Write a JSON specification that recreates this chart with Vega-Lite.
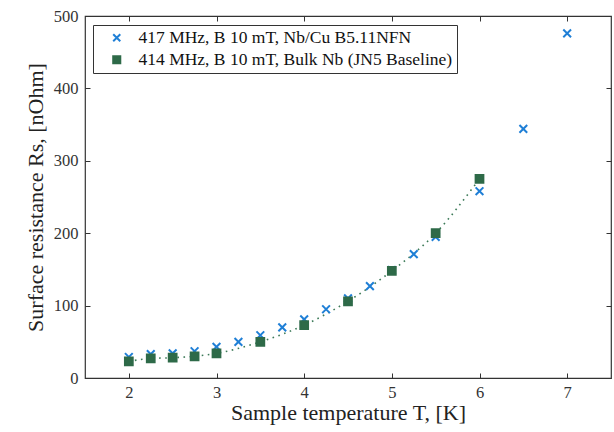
{
  "$schema": "https://vega.github.io/schema/vega-lite/v6.json",
  "width": 526,
  "height": 362,
  "autosize": "none",
  "padding": {"left": 85, "top": 16, "right": 3, "bottom": 54},
  "background": "white",
  "config": {
    "font": "Liberation Serif",
    "view": {"stroke": "#333", "strokeWidth": 1.2},
    "axis": {
      "grid": false,
      "domain": false,
      "tickColor": "#333",
      "tickSize": -5,
      "labelFont": "Liberation Serif",
      "labelFontSize": 16.5,
      "labelColor": "#333",
      "titleFont": "Liberation Serif",
      "titleFontSize": 22,
      "titleFontWeight": "normal",
      "titleColor": "#222"
    }
  },
  "data": {
    "values": [
      {"T": 2, "Rs": 29, "series": "417 MHz, B 10 mT, Nb/Cu B5.11NFN"},
      {"T": 2.25, "Rs": 33, "series": "417 MHz, B 10 mT, Nb/Cu B5.11NFN"},
      {"T": 2.5, "Rs": 34, "series": "417 MHz, B 10 mT, Nb/Cu B5.11NFN"},
      {"T": 2.75, "Rs": 37, "series": "417 MHz, B 10 mT, Nb/Cu B5.11NFN"},
      {"T": 3, "Rs": 43, "series": "417 MHz, B 10 mT, Nb/Cu B5.11NFN"},
      {"T": 3.25, "Rs": 50, "series": "417 MHz, B 10 mT, Nb/Cu B5.11NFN"},
      {"T": 3.5, "Rs": 59, "series": "417 MHz, B 10 mT, Nb/Cu B5.11NFN"},
      {"T": 3.75, "Rs": 70, "series": "417 MHz, B 10 mT, Nb/Cu B5.11NFN"},
      {"T": 4, "Rs": 81, "series": "417 MHz, B 10 mT, Nb/Cu B5.11NFN"},
      {"T": 4.25, "Rs": 95, "series": "417 MHz, B 10 mT, Nb/Cu B5.11NFN"},
      {"T": 4.5, "Rs": 110, "series": "417 MHz, B 10 mT, Nb/Cu B5.11NFN"},
      {"T": 4.75, "Rs": 127, "series": "417 MHz, B 10 mT, Nb/Cu B5.11NFN"},
      {"T": 5, "Rs": 149, "series": "417 MHz, B 10 mT, Nb/Cu B5.11NFN"},
      {"T": 5.25, "Rs": 171, "series": "417 MHz, B 10 mT, Nb/Cu B5.11NFN"},
      {"T": 5.5, "Rs": 195, "series": "417 MHz, B 10 mT, Nb/Cu B5.11NFN"},
      {"T": 6, "Rs": 258, "series": "417 MHz, B 10 mT, Nb/Cu B5.11NFN"},
      {"T": 6.5, "Rs": 344, "series": "417 MHz, B 10 mT, Nb/Cu B5.11NFN"},
      {"T": 7, "Rs": 476, "series": "417 MHz, B 10 mT, Nb/Cu B5.11NFN"},
      {"T": 2, "Rs": 23, "series": "414 MHz, B 10 mT, Bulk Nb (JN5 Baseline)"},
      {"T": 2.25, "Rs": 27, "series": "414 MHz, B 10 mT, Bulk Nb (JN5 Baseline)"},
      {"T": 2.5, "Rs": 28, "series": "414 MHz, B 10 mT, Bulk Nb (JN5 Baseline)"},
      {"T": 2.75, "Rs": 30, "series": "414 MHz, B 10 mT, Bulk Nb (JN5 Baseline)"},
      {"T": 3, "Rs": 34, "series": "414 MHz, B 10 mT, Bulk Nb (JN5 Baseline)"},
      {"T": 3.5, "Rs": 50, "series": "414 MHz, B 10 mT, Bulk Nb (JN5 Baseline)"},
      {"T": 4, "Rs": 73, "series": "414 MHz, B 10 mT, Bulk Nb (JN5 Baseline)"},
      {"T": 4.5, "Rs": 106, "series": "414 MHz, B 10 mT, Bulk Nb (JN5 Baseline)"},
      {"T": 5, "Rs": 148, "series": "414 MHz, B 10 mT, Bulk Nb (JN5 Baseline)"},
      {"T": 5.5, "Rs": 200, "series": "414 MHz, B 10 mT, Bulk Nb (JN5 Baseline)"},
      {"T": 6, "Rs": 275, "series": "414 MHz, B 10 mT, Bulk Nb (JN5 Baseline)"}
    ]
  },
  "layer": [
    {
      "transform": [{"filter": "datum.series === '414 MHz, B 10 mT, Bulk Nb (JN5 Baseline)'"}],
      "mark": {"type": "line", "interpolate": "monotone", "color": "#3c7a58", "strokeWidth": 1.6, "strokeDash": [1.6, 4.5]},
      "encoding": {
        "x": {"field": "T", "type": "quantitative", "scale": {"domain": [1.5, 7.5], "nice": false},
              "axis": {"orient": "top", "labels": false, "title": null, "values": [2, 3, 4, 5, 6, 7]}},
        "y": {"field": "Rs", "type": "quantitative", "scale": {"domain": [0, 500], "nice": false},
              "axis": {"orient": "right", "labels": false, "title": null, "values": [0, 100, 200, 300, 400, 500]}}
      }
    },
    {
      "mark": {"type": "point", "filled": false, "strokeWidth": 2, "opacity": 1},
      "encoding": {
        "x": {"field": "T", "type": "quantitative", "scale": {"domain": [1.5, 7.5], "nice": false},
              "axis": {"orient": "bottom", "title": "Sample temperature T, [K]", "values": [2, 3, 4, 5, 6, 7], "format": "d", "labelPadding": 11, "titlePadding": 2}},
        "y": {"field": "Rs", "type": "quantitative", "scale": {"domain": [0, 500], "nice": false},
              "axis": {"orient": "left", "title": "Surface resistance Rs, [nOhm]", "values": [0, 100, 200, 300, 400, 500], "format": "d", "labelPadding": 12, "titlePadding": 6}},
        "color": {"field": "series", "type": "nominal",
          "scale": {"domain": ["417 MHz, B 10 mT, Nb/Cu B5.11NFN", "414 MHz, B 10 mT, Bulk Nb (JN5 Baseline)"], "range": ["#1f7fd6", "#2e6a48"]},
          "legend": {"title": null, "orient": "none", "legendX": 8, "legendY": 9, "direction": "vertical",
            "labelFont": "Liberation Serif", "labelFontSize": 17.5, "labelColor": "#111", "labelLimit": 500,
            "padding": 4, "strokeColor": "#333", "fillColor": "white", "rowPadding": 3, "symbolSize": 50, "symbolStrokeWidth": 2,
            "symbolOffset": 11, "labelOffset": 13}},
        "fill": {"field": "series", "type": "nominal",
          "scale": {"domain": ["417 MHz, B 10 mT, Nb/Cu B5.11NFN", "414 MHz, B 10 mT, Bulk Nb (JN5 Baseline)"], "range": ["transparent", "#2e6a48"]},
          "legend": null},
        "shape": {"field": "series", "type": "nominal",
          "scale": {"domain": ["417 MHz, B 10 mT, Nb/Cu B5.11NFN", "414 MHz, B 10 mT, Bulk Nb (JN5 Baseline)"], "range": ["M-1,-1L1,1M1,-1L-1,1", "square"]}},
        "size": {"value": 60},
        "order": {"field": "T", "type": "quantitative"}
      }
    }
  ],
  "resolve": {"axis": {"x": "independent", "y": "independent"}}
}
